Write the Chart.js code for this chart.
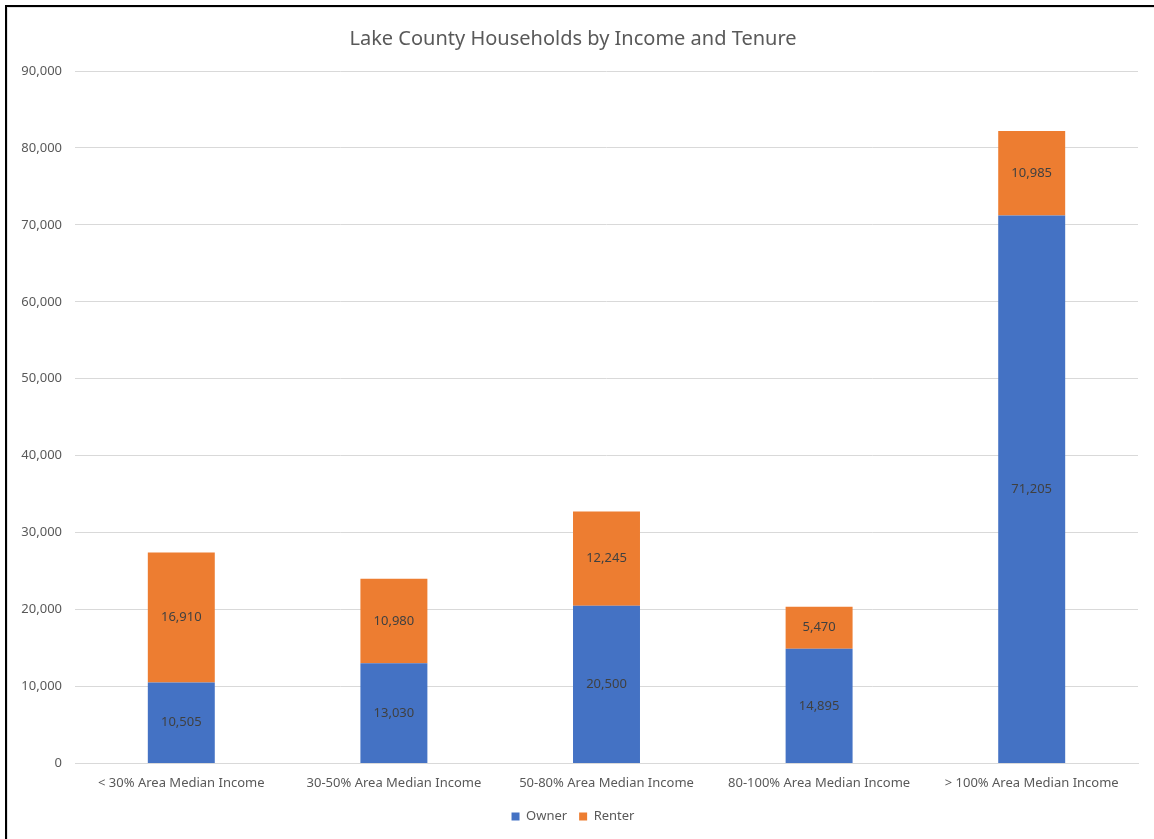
<!DOCTYPE html>
<html>
<head>
<meta charset="utf-8">
<script src="https://cdn.jsdelivr.net/npm/chart.js@4/dist/chart.umd.min.js"></script>
<style>
  html, body { margin: 0; padding: 0; background: #fff; }
  #frame { position: absolute; left: 5px; top: 5px; width: 1149px; height: 834px;
           border-left: 2px solid #000; border-top: 2px solid #000; box-sizing: border-box; }
  #inner { position: absolute; left: 0; top: 0; right: 0; bottom: 0;
           border-left: 1px solid #e2e2e2; border-top: 1px solid #e2e2e2; }
  #wrap { position: absolute; left: 0; top: 0; width: 1154px; height: 839px; }
</style>
</head>
<body>
<div id="frame"><div id="inner"></div></div>
<div id="wrap"><canvas id="chart"></canvas></div>
<script>
const categories = [
  '< 30% Area Median Income',
  '30-50% Area Median Income',
  '50-80% Area Median Income',
  '80-100% Area Median Income',
  '> 100% Area Median Income'
];
const ownerValues = [10505, 13030, 20500, 14895, 71205];
const renterValues = [16910, 10980, 12245, 5470, 10985];
const yTicks = [0, 10000, 20000, 30000, 40000, 50000, 60000, 70000, 80000, 90000];

const FONT = "'Noto Sans', sans-serif";
const TEXT = '#595959';

// Writes each segment's value in the middle of its bar
const segmentLabels = {
  id: 'segmentLabels',
  afterDatasetsDraw(chart) {
    const ctx = chart.ctx;
    ctx.save();
    ctx.font = '13px ' + FONT;
    ctx.fillStyle = '#404040';
    ctx.textAlign = 'center';
    ctx.textBaseline = 'middle';
    chart.data.datasets.forEach((ds, di) => {
      const meta = chart.getDatasetMeta(di);
      meta.data.forEach((bar, i) => {
        const v = ds.data[i];
        const mid = (bar.y + bar.base) / 2;
        ctx.fillText(v.toLocaleString('en-US'), bar.x, mid);
      });
    });
    ctx.restore();
  }
};

new Chart(document.getElementById('chart'), {
  type: 'bar',
  data: {
    labels: categories,
    datasets: [
      { label: 'Owner', data: ownerValues, backgroundColor: '#4472C4' },
      { label: 'Renter', data: renterValues, backgroundColor: '#ED7D31' }
    ]
  },
  options: {
    responsive: true,
    maintainAspectRatio: false,
    animation: false,
    layout: { padding: { left: 8, right: 16, top: 0, bottom: 6 } },
    datasets: { bar: { categoryPercentage: 1.0, barPercentage: 0.315 } },
    plugins: {
      title: {
        display: true,
        text: 'Lake County Households by Income and Tenure',
        color: TEXT,
        font: { family: FONT, size: 20, weight: 'normal' },
        padding: { top: 27, bottom: 20 }
      },
      legend: {
        position: 'bottom',
        labels: {
          color: TEXT,
          font: { family: FONT, size: 13 },
          boxWidth: 8, boxHeight: 8, padding: 12
        }
      },
      tooltip: { enabled: false }
    },
    scales: {
      x: {
        stacked: true,
        afterFit(axis) { axis.height -= 5; },
        grid: { display: false, drawTicks: false },
        border: { display: true, color: '#d9d9d9' },
        ticks: { color: TEXT, font: { family: FONT, size: 13 }, padding: 12, maxRotation: 0 }
      },
      y: {
        stacked: true,
        min: 0,
        max: 90000,
        afterBuildTicks(axis) { axis.ticks = yTicks.map(v => ({ value: v })); },
        afterFit(axis) { axis.width = 67; },
        grid: { color: '#d9d9d9', drawTicks: false },
        border: { display: false },
        ticks: {
          color: TEXT,
          font: { family: FONT, size: 13 },
          padding: 13,
          callback: v => v.toLocaleString('en-US')
        }
      }
    }
  },
  plugins: [segmentLabels]
});
</script>
</body>
</html>
